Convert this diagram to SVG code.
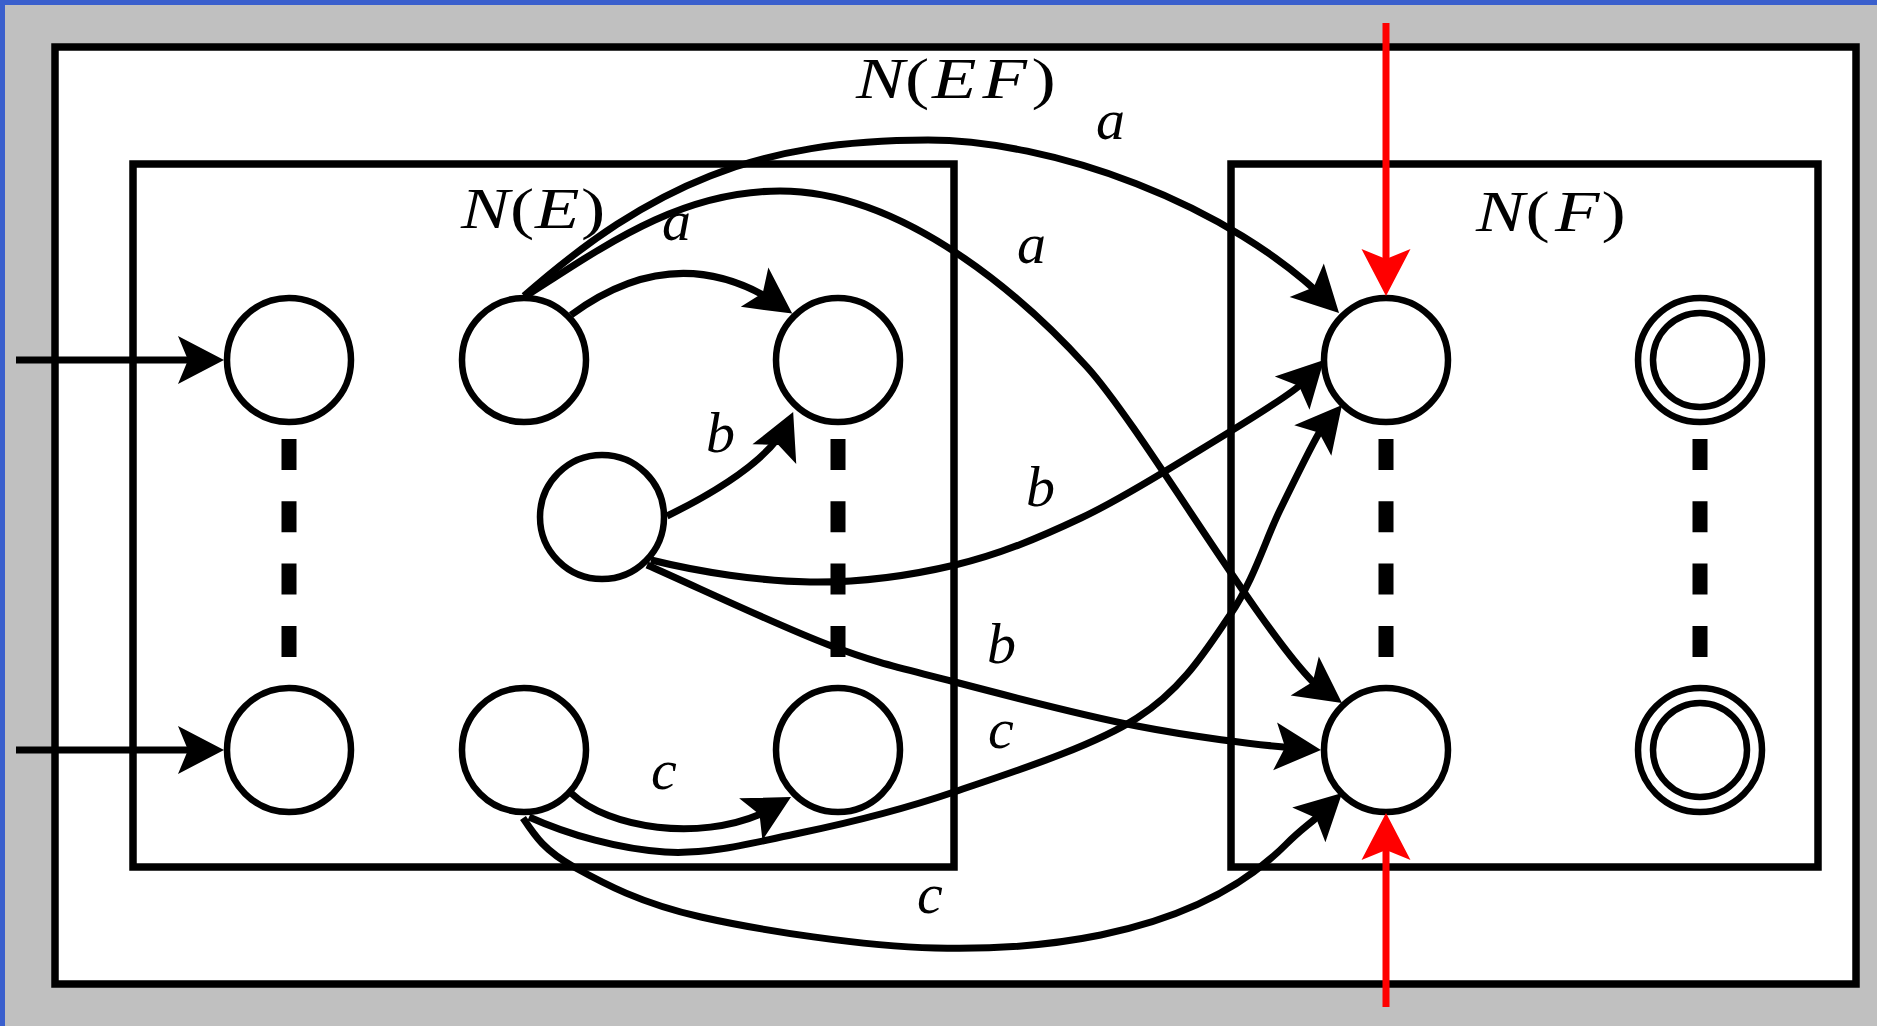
<svg xmlns="http://www.w3.org/2000/svg" width="1877" height="1026" viewBox="0 0 1877 1026">
<style>
.box{fill:none;stroke:#000;stroke-width:7.5}
.st{fill:#fff;stroke:#000;stroke-width:6.5}
.dash{stroke:#000;stroke-width:15;stroke-dasharray:31 31.3;fill:none}
.edge{fill:none;stroke:#000;stroke-width:7;marker-end:url(#ah)}
.red{fill:none;stroke:#f00;stroke-width:7;marker-end:url(#ahr)}
.lbl{font-family:"Liberation Serif","Times New Roman",serif;font-style:italic;font-size:58px;fill:#000}
.nl{font-size:56px}
.up{font-style:normal}
</style>
<defs>
<marker id="ah" markerUnits="userSpaceOnUse" markerWidth="60" markerHeight="60" viewBox="-50 -30 60 60" refX="0" refY="0" orient="auto" overflow="visible"><path d="M8,0 L-38,-24 L-28,0 L-38,24 Z" fill="#000"/></marker>
<marker id="ahr" markerUnits="userSpaceOnUse" markerWidth="60" markerHeight="60" viewBox="-50 -30 60 60" refX="0" refY="0" orient="auto" overflow="visible"><path d="M8,0 L-39,-24.5 L-29,0 L-39,24.5 Z" fill="#f00"/></marker>
</defs>
<rect x="0" y="0" width="1877" height="1026" fill="#c0c0c0"/>
<rect x="0" y="0" width="1877" height="5" fill="#3a5fcd"/>
<rect x="0" y="0" width="5" height="1026" fill="#3a5fcd"/>
<g id="NEF"><rect x="55" y="47" width="1801" height="937" fill="#fff" stroke="#000" stroke-width="7.5"/>
<text class="lbl nl" transform="scale(1.3,1)" y="98"><tspan x="658.5">N</tspan><tspan class="up" x="696.2">(</tspan><tspan x="716.9">E</tspan><tspan x="755.8">F</tspan><tspan class="up" x="793.5">)</tspan></text></g>
<g id="NE"><rect class="box" x="133" y="164" width="821" height="703"/>
<text class="lbl nl" transform="scale(1.3,1)" y="228"><tspan x="354.6">N</tspan><tspan class="up" x="392.3">(</tspan><tspan x="411.5">E</tspan><tspan class="up" x="446.9">)</tspan></text></g>
<g id="NF"><rect class="box" x="1231" y="164" width="587" height="703"/>
<text class="lbl nl" transform="scale(1.3,1)" y="231"><tspan x="1135.4">N</tspan><tspan class="up" x="1173.5">(</tspan><tspan x="1196.2">F</tspan><tspan class="up" x="1231.9">)</tspan></text></g>
<g id="dashes">
<line class="dash" x1="289" y1="439" x2="289" y2="657"/>
<line class="dash" x1="838" y1="439" x2="838" y2="657"/>
<line class="dash" x1="1386" y1="439" x2="1386" y2="657"/>
<line class="dash" x1="1700" y1="439" x2="1700" y2="657"/>
</g>
<g id="e1s1"><circle class="st" cx="289" cy="360" r="62"/></g>
<g id="e1s2"><circle class="st" cx="524" cy="360" r="62"/></g>
<g id="e1s3"><circle class="st" cx="838" cy="360" r="62"/></g>
<g id="e1mid"><circle class="st" cx="602" cy="517" r="62"/></g>
<g id="e2s1"><circle class="st" cx="289" cy="750" r="62"/></g>
<g id="e2s2"><circle class="st" cx="524" cy="750" r="62"/></g>
<g id="e2s3"><circle class="st" cx="838" cy="750" r="62"/></g>
<g id="f1s1"><circle class="st" cx="1386" cy="360" r="62"/></g>
<g id="f2s1"><circle class="st" cx="1386" cy="750" r="62"/></g>
<g id="f1s2"><circle class="st" cx="1700" cy="360" r="62"/><circle class="st" cx="1700" cy="360" r="47"/></g>
<g id="f2s2"><circle class="st" cx="1700" cy="750" r="62"/><circle class="st" cx="1700" cy="750" r="47"/></g>
<g id="connectors">
<path class="edge" d="M16,360 L216,360"/>
<path class="edge" d="M16,750 L216,750"/>
<path class="edge" d="M571,315 Q680,235 785.7,309"/>
<path class="edge" d="M667,516 Q769,466 789.9,419.4"/>
<path class="edge" d="M524,296 C651.5,183.8 758,140 928,140 C1048,140 1228.4,200.8 1333.4,307.3"/>
<path class="edge" d="M526,296 C604,246 680,191 780,191 C910,191 1033.4,307.8 1087,367 C1140.6,426.2 1257,625.2 1313,682 L1335.5,698.3"/>
<path class="edge" d="M529,817 C569,835 619.8,849.3 665,852 C710.2,854.7 751.8,843 800,833 C848.2,823 897.8,811.2 954,792 C1010.2,772.8 1091,747.5 1137,718 C1183,688.5 1206.2,649.7 1230,615 C1253.8,580.3 1265.2,540.3 1280,510 C1294.8,479.7 1311.5,445.9 1319,433 L1336.9,411.2"/>
<path class="edge" d="M571,793 C610,830 700,840 759.5,814.5 L784,800.9"/>
<path class="edge" d="M523,818 C535,836 544.3,850.5 574,867 C603.7,883.5 640.8,903.5 701,917 C761.2,930.5 862.3,946.2 935,948 C1010,950 1185,946 1286,844.4 C1298,832 1308,825 1316,818 L1336.3,798.6"/>
<path class="edge" d="M647,565 C697,587 777.7,625.5 829,645 C880.3,664.5 903.7,668.5 955,682 C1006.3,695.5 1081.8,715.2 1137,726 C1192.2,736.8 1256,744.6 1286,747.2 L1313,749.4"/>
<path class="edge" d="M651,560 C699.5,572 759.3,581.2 810,582 C860.7,582.8 909.8,575.7 955,565 C1000.2,554.3 1040.2,537.2 1081,518 C1121.8,498.8 1163.7,472 1200,450 C1236.3,428 1287.8,395.9 1299,386 L1318.4,365.7"/>
<path class="red" d="M1386,23 L1386,288"/>
<path class="red" d="M1386,1007 L1386,821"/>
</g>
<g id="labels">
<text class="lbl" x="1096" y="139">a</text>
<text class="lbl" x="1017" y="263">a</text>
<text class="lbl" x="662" y="240">a</text>
<text class="lbl" x="706" y="452">b</text>
<text class="lbl" x="1026" y="506">b</text>
<text class="lbl" x="987" y="663">b</text>
<text class="lbl" x="651" y="789">c</text>
<text class="lbl" x="988" y="748">c</text>
<text class="lbl" x="917" y="913">c</text>
</g>
</svg>
